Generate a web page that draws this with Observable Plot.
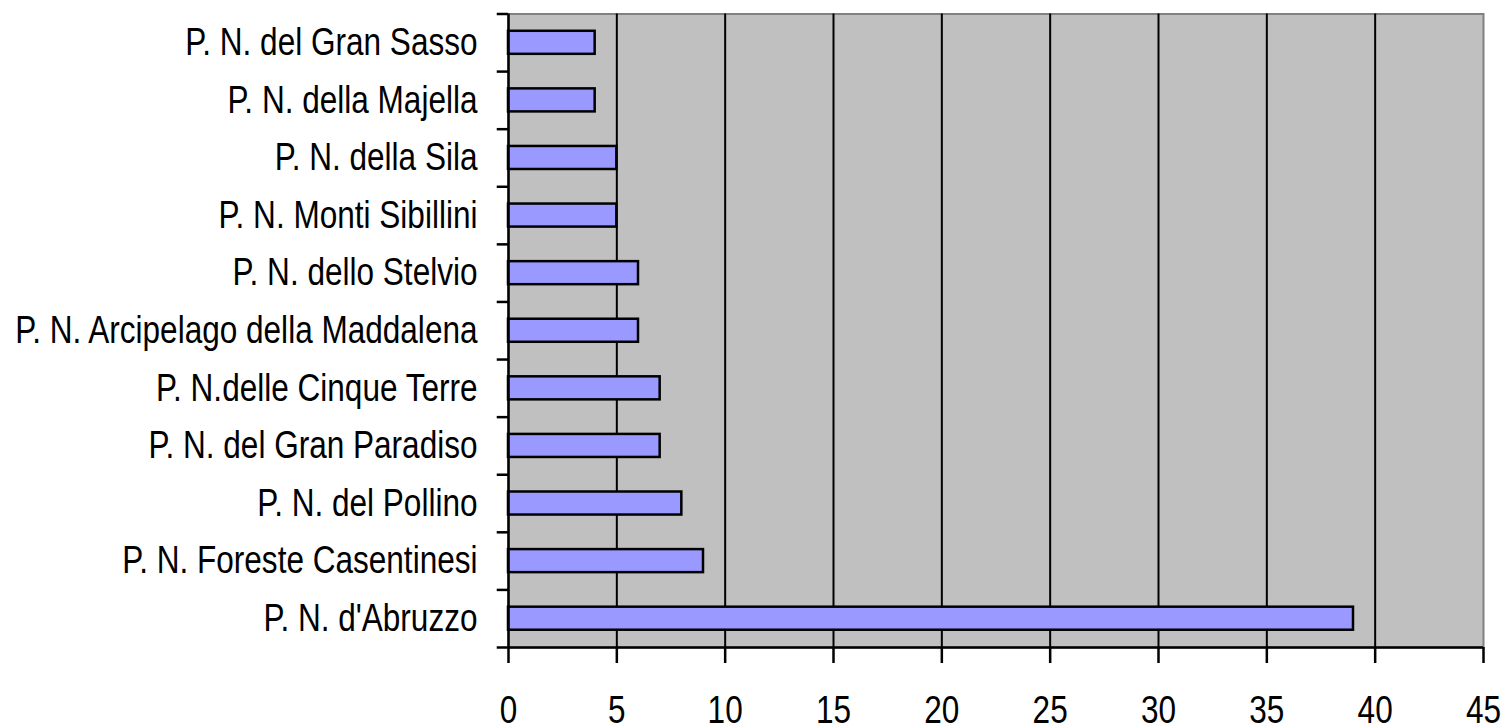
<!DOCTYPE html>
<html>
<head>
<meta charset="utf-8">
<script src="https://cdn.jsdelivr.net/npm/d3@7"></script>
<script src="https://cdn.jsdelivr.net/npm/@observablehq/plot@0.6"></script>
<style>
  html, body { margin: 0; padding: 0; background: #ffffff; }
  #chart svg { display: block; }
</style>
</head>
<body>
<div id="chart"></div>
<script>
// Parks, listed top to bottom as they appear on the chart
const parks = [
  "P. N. del Gran Sasso",
  "P. N. della Majella",
  "P. N. della Sila",
  "P. N. Monti Sibillini",
  "P. N. dello Stelvio",
  "P. N. Arcipelago della Maddalena",
  "P. N.delle Cinque Terre",
  "P. N. del Gran Paradiso",
  "P. N. del Pollino",
  "P. N. Foreste Casentinesi",
  "P. N. d'Abruzzo"
];
const counts = [4, 4, 5, 5, 6, 6, 7, 7, 8, 9, 39];
const xTicks = [0, 5, 10, 15, 20, 25, 30, 35, 40, 45];
const gridLines = [5, 10, 15, 20, 25, 30, 35, 40];

const data = parks.map((name, i) => ({name, value: counts[i]}));

const W = 1504, H = 728;
const mTop = 13.5, mBottom = 81, mLeft = 508, mRight = 21;
const step = (H - mTop - mBottom) / parks.length;
const font = "'Liberation Sans Narrow', 'Arial Narrow', 'Liberation Sans', Arial, sans-serif";

const chart = Plot.plot({
  width: W,
  height: H,
  marginTop: mTop,
  marginBottom: mBottom,
  marginLeft: mLeft,
  marginRight: mRight,
  style: {fontFamily: font, background: "#ffffff", color: "#000000"},
  x: {domain: [0, 45]},
  y: {domain: parks, paddingInner: 0.6, paddingOuter: 0.3, align: 0.5, round: false},
  marks: [
    // plot area
    Plot.frame({fill: "#c0c0c0", stroke: "#808080", strokeWidth: 2}),
    // vertical gridlines
    Plot.ruleX(gridLines, {stroke: "#000000", strokeWidth: 2}),
    // bars
    Plot.barX(data, {x: "value", y: "name", fill: "#9999ff", stroke: "#000000", strokeWidth: 2.5}),
    // axis lines
    Plot.ruleY([parks[parks.length - 1]], {y: d => d, dy: step / 2, x1: 0, x2: 45, stroke: "#000", strokeWidth: 2.5}),
    Plot.ruleX([0], {stroke: "#000", strokeWidth: 2.5}),
    // category tick marks between bands
    Plot.ruleY(parks, {y: d => d, dy: -step / 2, x1: -0.52, x2: 0, stroke: "#000", strokeWidth: 2.5}),
    Plot.ruleY([parks[parks.length - 1]], {y: d => d, dy: step / 2, x1: -0.52, x2: 0, stroke: "#000", strokeWidth: 2.5}),
    // axes
    Plot.axisX(xTicks, {
      anchor: "bottom", tickSize: 16, tickPadding: 33, fontSize: 38,
      stroke: "#000", strokeWidth: 2.5, fill: "#000", label: null,
      tickFormat: d => String(d)
    }),
    Plot.axisY({
      anchor: "left", tickSize: 0, tickPadding: 31, fontSize: 38,
      fill: "#000", label: null
    })
  ]
});

document.getElementById("chart").appendChild(chart);

// Condense the labels to a narrow face when no narrow font is installed
const probe = d3.select(chart).append("text")
  .attr("font-family", "'Liberation Sans Narrow', 'Arial Narrow'")
  .attr("font-size", 38).text("P. N. d'Abruzzo");
const probeWide = d3.select(chart).append("text")
  .attr("font-family", "'Liberation Sans', Arial")
  .attr("font-size", 38).text("P. N. d'Abruzzo");
const hasNarrow = probe.node().getComputedTextLength() < probeWide.node().getComputedTextLength() * 0.9;
probe.remove();
probeWide.remove();
if (!hasNarrow) {
  d3.select(chart).selectAll("g[aria-label$='tick label'] text").each(function() {
    const len = this.getComputedTextLength();
    this.setAttribute("textLength", (len * 0.83).toFixed(1));
    this.setAttribute("lengthAdjust", "spacingAndGlyphs");
  });
}
</script>
</body>
</html>
